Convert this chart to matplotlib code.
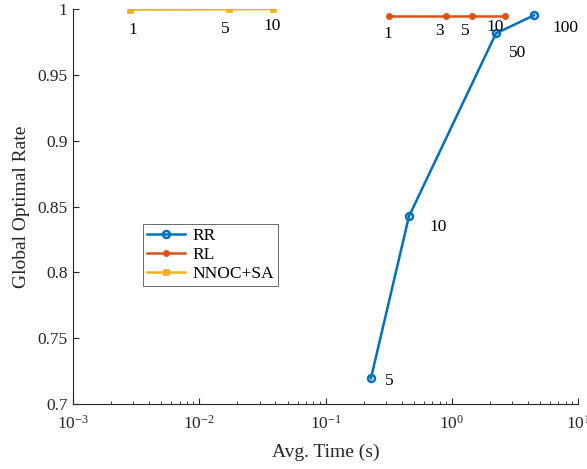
import numpy as np
import matplotlib.pyplot as plt
from matplotlib.ticker import FixedLocator, LogLocator, NullFormatter

# Data
rr_time = [0.229, 0.458, 2.24, 4.48]
rr_rate = [0.7195, 0.8425, 0.9815, 0.9952]
rr_labels = ['5', '10', '50', '100']

rl_time = [0.318, 0.90, 1.446, 2.64]
rl_rate = [0.9947, 0.9947, 0.9947, 0.9947]
rl_labels = ['1', '3', '5', '10']

sa_time = [0.00282, 0.0172, 0.0384]
sa_rate = [0.9996, 0.9998, 1.0]
sa_labels = ['1', '5', '10']

yticks = [0.7, 0.75, 0.8, 0.85, 0.9, 0.95, 1.0]
ytick_labels = ['0.7', '0.75', '0.8', '0.85', '0.9', '0.95', '1']

plt.rcParams['font.family'] = ['Liberation Serif', 'DejaVu Serif']
plt.rcParams['mathtext.fontset'] = 'stix'

c_rr = '#0072BD'
c_rl = '#D95319'
c_sa = '#EDB120'

fig = plt.figure(figsize=(5.87, 4.69), dpi=100)
ax = fig.add_axes([0.1244, 0.1386, 0.8603, 0.8422])

ax.plot(rr_time, rr_rate, '-o', color=c_rr, lw=1.8, ms=5, mfc='none', mew=1.8, label='RR')
ax.plot(rl_time, rl_rate, '-o', color=c_rl, lw=1.8, ms=4.5, mfc=c_rl, mew=0.5, label='RL')
ax.plot(sa_time, sa_rate, '-s', color=c_sa, lw=1.8, ms=4, mfc=c_sa, mew=0.5, label='NNOC+SA')

# point labels (offsets in points)
rr_offsets = [(10, -2), (15, -8), (9, -14), (13, -9)]
for x, y, t, off in zip(rr_time, rr_rate, rr_labels, rr_offsets):
    ax.annotate(t, (x, y), xytext=off, textcoords='offset points',
                ha='left', va='center', fontsize=12.5)

rl_offsets = [(-1, -13), (-5, -11), (-5, -11), (-7, -8)]
for x, y, t, off in zip(rl_time, rl_rate, rl_labels, rl_offsets):
    ax.annotate(t, (x, y), xytext=off, textcoords='offset points',
                ha='center', va='center', fontsize=12.5)

sa_offsets = [(2, -15), (-3, -14), (-1, -12)]
for x, y, t, off in zip(sa_time, sa_rate, sa_labels, sa_offsets):
    ax.annotate(t, (x, y), xytext=off, textcoords='offset points',
                ha='center', va='center', fontsize=12.5)

ax.set_xscale('log')
ax.set_xlim(1e-3, 1e1)
ax.set_ylim(0.7, 1.0)
ax.yaxis.set_major_locator(FixedLocator(yticks))
ax.set_yticklabels(ytick_labels)
ax.xaxis.set_minor_locator(LogLocator(base=10, subs=np.arange(2, 10)))
ax.xaxis.set_minor_formatter(NullFormatter())

ax.spines['top'].set_visible(False)
ax.spines['right'].set_visible(False)
for s in ['left', 'bottom']:
    ax.spines[s].set_color('#262626')
    ax.spines[s].set_linewidth(0.8)
ax.tick_params(which='both', direction='in', labelsize=12.5, colors='#262626')
ax.tick_params(which='major', length=4)
ax.tick_params(which='minor', length=2.5)
ax.tick_params(axis='x', which='major', pad=8)
ax.tick_params(axis='y', which='major', pad=4)

ax.set_xlabel('Avg. Time (s)', fontsize=14, color='#262626', labelpad=8)
ax.set_ylabel('Global Optimal Rate', fontsize=14, color='#262626', labelpad=5)

leg = ax.legend(loc='lower left', bbox_to_anchor=(0.138, 0.298), fontsize=12.5,
                frameon=True, fancybox=False, edgecolor='#262626',
                borderpad=0.25, labelspacing=0.15, handlelength=2.2, handletextpad=0.4,
                borderaxespad=0)
leg.get_frame().set_linewidth(0.6)

fig.savefig('out.png', dpi=100)
